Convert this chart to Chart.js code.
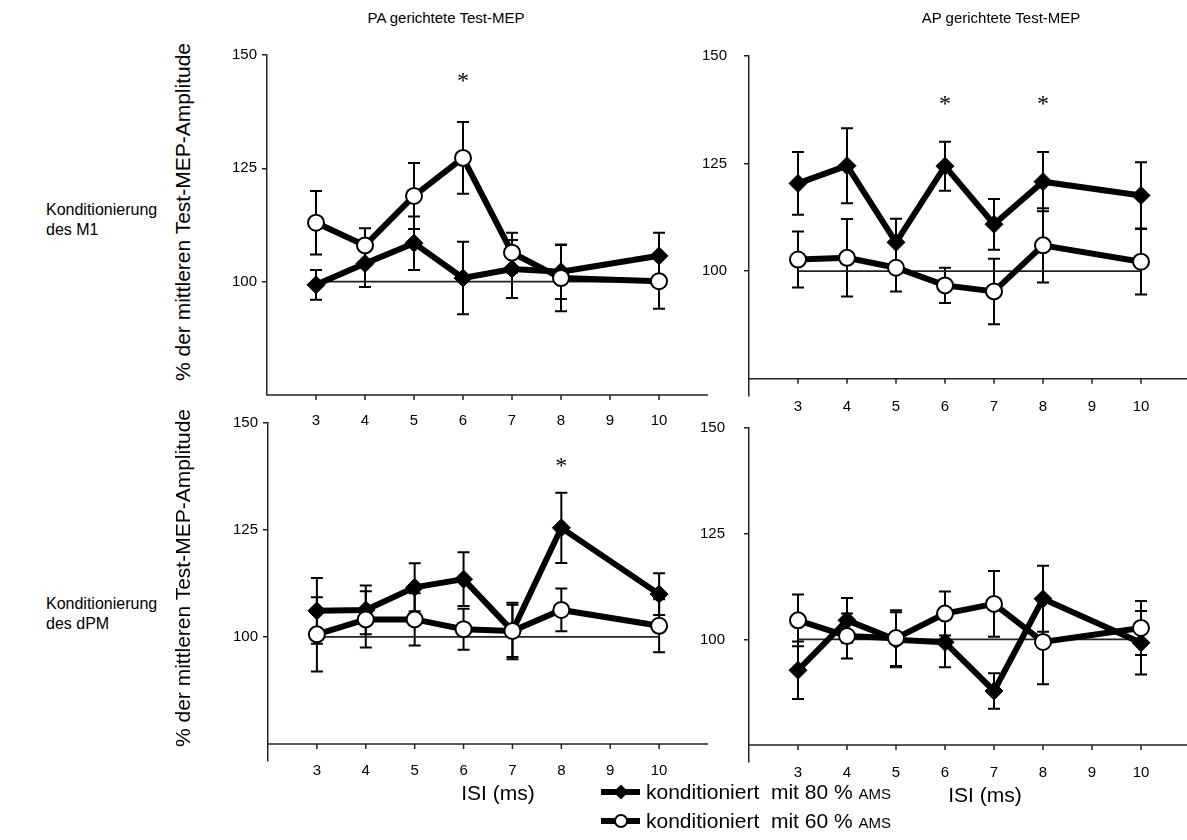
<!DOCTYPE html>
<html>
<head>
<meta charset="utf-8">
<script src="https://cdn.jsdelivr.net/npm/chart.js@4.4.0/dist/chart.umd.min.js"></script>
<style>
  body { margin:0; width:1187px; height:840px; overflow:hidden; background:#fff; position:relative;
         font-family:"Liberation Sans", Arial, sans-serif; color:#000; }
  canvas { position:absolute; }
  .txt { position:absolute; white-space:nowrap; }
  .c { transform:translate(-50%,-50%); }
  .ytitle { transform:translate(-50%,-50%) rotate(-90deg); font-size:21px; }
  .rowlab { position:absolute; white-space:nowrap; font-size:16px; line-height:20px; text-align:left; }
  .legrow { position:absolute; left:601px; height:30px; display:flex; align-items:center; font-size:21px; white-space:nowrap; }
  .legrow svg { margin-right:5px; }
  .small { font-size:15px; }
</style>
</head>
<body>

<canvas id="paM1" width="520" height="410" style="left:200px;top:30px"></canvas>
<canvas id="apM1" width="520" height="410" style="left:680px;top:30px"></canvas>
<canvas id="paDpm" width="520" height="400" style="left:200px;top:400px"></canvas>
<canvas id="apDpm" width="520" height="400" style="left:680px;top:400px"></canvas>

<div class="txt c" style="left:446px;top:17px;font-size:15px">PA gerichtete Test-MEP</div>
<div class="txt c" style="left:1001px;top:17px;font-size:15px">AP gerichtete Test-MEP</div>

<div class="rowlab" style="left:46px;top:200px">Konditionierung<br>des M1</div>
<div class="rowlab" style="left:46px;top:594px">Konditionierung<br>des dPM</div>

<div class="txt ytitle" style="left:183px;top:212px">% der mittleren Test-MEP-Amplitude</div>
<div class="txt ytitle" style="left:183px;top:578px">% der mittleren Test-MEP-Amplitude</div>

<div class="txt c" style="left:498px;top:793px;font-size:21px">ISI (ms)</div>
<div class="txt c" style="left:985px;top:795px;font-size:21px">ISI (ms)</div>

<div class="legrow" style="top:777px">
  <svg width="40" height="20"><line x1="0" y1="10" x2="39" y2="10" stroke="#000" stroke-width="6"/><polygon points="20,2.5 27.5,10 20,17.5 12.5,10" fill="#000"/></svg>
  <span>konditioniert&nbsp; mit 80 % <span class="small">AMS</span></span>
</div>
<div class="legrow" style="top:806px">
  <svg width="40" height="20"><line x1="0" y1="10" x2="39" y2="10" stroke="#000" stroke-width="6"/><circle cx="20" cy="10" r="6" fill="#fff" stroke="#000" stroke-width="2"/></svg>
  <span>konditioniert&nbsp; mit 60 % <span class="small">AMS</span></span>
</div>

<script>
// ISI values (ms) with data, and axis ticks
const isi = [3, 4, 5, 6, 7, 8, 10];
const xTicks = [3, 4, 5, 6, 7, 8, 9, 10];
const yTicks = [100, 125, 150];
const baseline = 100;

// PA gerichtete Test-MEP, Konditionierung des M1
const paM1_80 = [99.3, 104.0, 108.5, 100.8, 102.8, 102.2, 105.7];
const paM1_80err = [3.3, 5.2, 5.9, 8.0, 6.4, 6.0, 5.1];
const paM1_60 = [113.0, 108.0, 118.9, 127.3, 106.4, 100.8, 100.1];
const paM1_60err = [7.0, 3.8, 7.3, 7.9, 4.4, 7.3, 6.1];
const paM1_sig = [6];

// AP gerichtete Test-MEP, Konditionierung des M1
const apM1_80 = [120.4, 124.5, 106.7, 124.4, 110.9, 120.8, 117.6];
const apM1_80err = [7.3, 8.7, 5.5, 5.7, 5.9, 6.9, 7.7];
const apM1_60 = [102.7, 103.1, 100.8, 96.7, 95.3, 106.0, 102.2];
const apM1_60err = [6.5, 9.0, 5.5, 4.1, 7.6, 8.6, 7.6];
const apM1_sig = [6, 8];

// PA gerichtete Test-MEP, Konditionierung des dPM
const paDpm_80 = [106.1, 106.3, 111.6, 113.5, 101.4, 125.5, 110.0];
const paDpm_80err = [7.7, 5.7, 5.6, 6.3, 6.6, 8.2, 4.9];
const paDpm_60 = [100.6, 104.1, 104.1, 101.8, 101.4, 106.3, 102.6];
const paDpm_60err = [8.7, 6.6, 6.1, 4.8, 6.1, 5.0, 6.2];
const paDpm_sig = [8];

// AP gerichtete Test-MEP, Konditionierung des dPM
const apDpm_80 = [92.7, 104.5, 99.9, 99.3, 87.8, 109.6, 99.2];
const apDpm_80err = [6.8, 5.3, 6.5, 5.9, 4.2, 7.8, 7.5];
const apDpm_60 = [104.5, 100.8, 100.3, 106.1, 108.4, 99.4, 102.7];
const apDpm_60err = [6.1, 5.3, 6.6, 5.2, 7.8, 10.0, 6.4];
const apDpm_sig = [];

const axisColor = '#222';

function pts(vals) {
  return isi.map((x, i) => ({ x: x, y: vals[i] }));
}

// error bars go under the lines and markers
const errorBars = {
  id: 'errorBars',
  beforeDatasetsDraw(chart) {
    const ctx = chart.ctx;
    const y = chart.scales.y;
    ctx.save();
    ctx.strokeStyle = '#000';
    ctx.lineWidth = 2;
    chart.data.datasets.forEach((ds, i) => {
      if (!ds.errs) return;
      chart.getDatasetMeta(i).data.forEach((pt, j) => {
        const v = ds.data[j].y, e = ds.errs[j];
        const top = y.getPixelForValue(v + e);
        const bot = y.getPixelForValue(v - e);
        ctx.beginPath();
        ctx.moveTo(pt.x, top); ctx.lineTo(pt.x, bot);
        ctx.moveTo(pt.x - 6, top); ctx.lineTo(pt.x + 6, top);
        ctx.moveTo(pt.x - 6, bot); ctx.lineTo(pt.x + 6, bot);
        ctx.stroke();
      });
    });
    ctx.restore();
  }
};

// x axis crosses the y axis at 75
const crossAxis = {
  id: 'crossAxis',
  beforeDatasetsDraw(chart) {
    const { ctx, chartArea } = chart;
    const x = chart.scales.x, y = chart.scales.y;
    const py = y.getPixelForValue(75);
    ctx.save();
    ctx.strokeStyle = axisColor;
    ctx.lineWidth = 1.5;
    ctx.beginPath();
    ctx.moveTo(chartArea.left, py);
    ctx.lineTo(chartArea.right, py);
    xTicks.forEach(t => {
      const px = x.getPixelForValue(t);
      ctx.moveTo(px, py);
      ctx.lineTo(px, py + 5);
    });
    ctx.stroke();
    ctx.restore();
  }
};

// asterisks for significant ISIs
const stars = {
  id: 'stars',
  afterDatasetsDraw(chart, args, opts) {
    if (!opts.at || !opts.at.length) return;
    const ctx = chart.ctx;
    ctx.save();
    ctx.fillStyle = '#000';
    ctx.font = '24px "Liberation Serif", serif';
    ctx.textAlign = 'center';
    ctx.textBaseline = 'alphabetic';
    opts.at.forEach(v => {
      ctx.fillText('*', chart.scales.x.getPixelForValue(v), chart.scales.y.getPixelForValue(opts.level));
    });
    ctx.restore();
  }
};

function makePanel(id, p) {
  new Chart(document.getElementById(id), {
    type: 'line',
    data: {
      datasets: [
        {
          label: 'konditioniert mit 60 % AMS',
          data: pts(p.v60), errs: p.e60,
          borderColor: '#000', borderWidth: 6,
          pointStyle: 'circle', pointRadius: 8,
          pointBackgroundColor: '#fff', pointBorderColor: '#000', pointBorderWidth: 2
        },
        {
          label: 'konditioniert mit 80 % AMS',
          data: pts(p.v80), errs: p.e80,
          borderColor: '#000', borderWidth: 6,
          pointStyle: 'rectRot', pointRadius: 9,
          pointBackgroundColor: '#000', pointBorderColor: '#000', pointBorderWidth: 1
        },
        {
          label: 'ref',
          data: [{ x: isi[0], y: baseline }, { x: isi[isi.length - 1], y: baseline }],
          borderColor: '#222', borderWidth: 1.8, pointRadius: 0
        }
      ]
    },
    options: {
      responsive: false,
      animation: false,
      devicePixelRatio: 1,
      events: [],
      layout: { padding: { top: p.padTop, right: p.padRight, left: 0, bottom: 0 } },
      plugins: {
        legend: { display: false },
        tooltip: { enabled: false },
        stars: { at: p.sig, level: p.sigLevel }
      },
      scales: {
        x: {
          type: 'linear', min: 2, max: 11,
          afterBuildTicks: s => { s.ticks = xTicks.map(v => ({ value: v })); },
          afterFit: s => { s.height = p.xH; },
          grid: { display: false },
          border: { display: false },
          ticks: { color: '#000', font: { size: 15, family: '"Liberation Sans", Arial' }, padding: p.xPad, maxRotation: 0 }
        },
        y: {
          min: p.yMin, max: 150,
          afterBuildTicks: s => { s.ticks = yTicks.map(v => ({ value: v })); },
          afterFit: s => { s.width = p.yW; },
          grid: { display: true, drawOnChartArea: false, drawTicks: true, tickLength: 5, color: axisColor, lineWidth: 1.5 },
          border: { display: true, color: axisColor, width: 1.5 },
          ticks: { color: '#000', font: { size: 15, family: '"Liberation Sans", Arial' }, padding: p.yPad }
        }
      }
    },
    plugins: [crossAxis, errorBars, stars]
  });
}

makePanel('paM1', { v80: paM1_80, e80: paM1_80err, v60: paM1_60, e60: paM1_60err, sig: paM1_sig, sigLevel: 142.8,
  yMin: 75, padTop: 25, padRight: 12, yW: 67, xH: 45, xPad: 9, yPad: 5 });
makePanel('apM1', { v80: apM1_80, e80: apM1_80err, v60: apM1_60, e60: apM1_60err, sig: apM1_sig, sigLevel: 137.2,
  yMin: 71, padTop: 26, padRight: 10, yW: 69, xH: 44, xPad: -6, yPad: 17 });
makePanel('paDpm', { v80: paDpm_80, e80: paDpm_80err, v60: paDpm_60, e60: paDpm_60err, sig: paDpm_sig, sigLevel: 138.3,
  yMin: 71, padTop: 23, padRight: 12, yW: 68, xH: 39, xPad: -7, yPad: 5 });
makePanel('apDpm', { v80: apDpm_80, e80: apDpm_80err, v60: apDpm_60, e60: apDpm_60err, sig: apDpm_sig, sigLevel: 140,
  yMin: 71, padTop: 23, padRight: 10, yW: 69, xH: 38, xPad: -6, yPad: 19 });
</script>
</body>
</html>
